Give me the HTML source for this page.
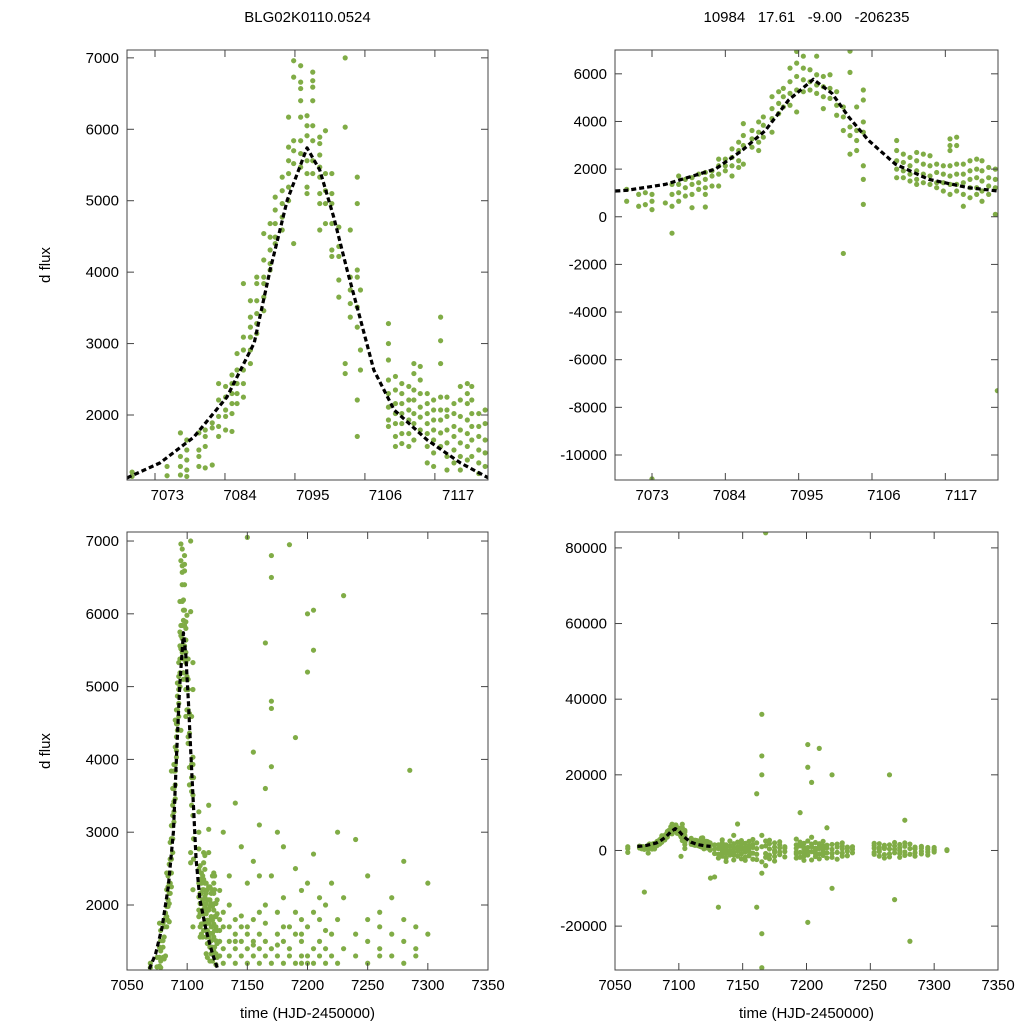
<!DOCTYPE html>
<html><head><meta charset="utf-8"><style>
body{margin:0;background:#fff}
svg{display:block;font-family:"Liberation Sans",sans-serif}
</style></head><body>
<svg id="c" width="1024" height="1024" viewBox="0 0 1024 1024"></svg>
<script>
// ---- data ----
const seriesA = [[7069.4,[1140,1200]],[7074.9,[1280,1150]],[7077.0,[1750,1420,1280,1160]],[7078.0,[1650,1510,1370,1230,1140]],[7079.9,[1750,1510,1420,1280]],[7080.9,[1790,1700,1560,1260]],[7082.0,[1890,1820,1300]],[7083.0,[2440,2210,1980,1840,1700]],[7084.1,[2400,2250,2070,1980,1790]],[7085.1,[2560,2440,2300,2160,2020,1770]],[7085.9,[2860,2630,2440,2300,2160]],[7086.9,[3840,3090,2910,2630,2440,2250]],[7088.0,[3600,3370,3230,3090,2910,2720]],[7089.0,[3930,3840,3600,3420,3280,3140]],[7090.1,[4540,4170,3930,3840,3650,3460]],[7091.1,[4680,4490,4310,4120,4030]],[7091.9,[5050,4870,4680,4490,4400]],[7093.0,[5330,5140,4960,4770,4590]],[7094.0,[6170,5750,5560,5380,5190,5000]],[7094.8,[6960,6730,5840,5700,5520,4400]],[7095.9,[6890,6660,6570,6400,6170,5840,5660,5470]],[7096.9,[6190,6050,5910,5560,5380,5190,5100]],[7097.8,[6800,6680,6590,6400,6050,5840,5560,5380]],[7098.9,[5890,5800,5640,5470,5330,5100,4960,4590]],[7099.8,[5980,5380,5140,4960,4680]],[7100.8,[5380,5100,4960,4680,4310,4220]],[7101.9,[4630,4360,4220,3890,3650]],[7102.9,[7000,6030,2720,2580]],[7103.7,[4590,3930,3750,3560,3370]],[7104.8,[5330,4960,4030,3930,3510,3230,2210,1700]],[7105.3,[3750,2910,2630]],[7109.7,[3280,3000,2770,2490,2300,2110,1930,1840]],[7110.8,[2540,2350,2160,2020,1880,1700,1560]],[7111.8,[2440,2300,2160,2020,1880,1740,1600]],[7112.9,[2400,2210,2070,1930,1740,1560]],[7113.7,[2720,2580,2350,2210,2020,1880,1650]],[7114.7,[2680,2490,2300,2110,1970,1790]],[7115.8,[2300,2160,2020,1880,1740,1560,1330]],[7116.8,[2210,2070,1930,1790,1650,1470,1280]],[7117.9,[3370,3040,2720,2250,2070,1930,1750,1560]],[7118.9,[2250,2070,1980,1790,1610,1420,1230]],[7120.0,[2160,2020,1840,1700,1510,1330]],[7121.0,[2400,2210,1980,1790,1610,1420,1230]],[7122.1,[2440,2300,2160,1930,1740,1560,1370]],[7122.8,[2400,2210,2020,1840,1650,1420]],[7123.9,[2020,1840,1700,1510,1330,1180]],[7124.9,[2070,1880,1650,1470,1280]]];
const seriesAExtra = [[7127,[1800,1500,2200,1300,1650]],[7130,[1400,1700,3000,1200,1900]],[7135,[2400,1500,1300,2000,1700]],[7140,[1800,1400,1600,1200,3400,1500]],[7145,[1500,1300,1700,2800,1850]],[7150,[7050,1700,1400,1200,2300,1600]],[7155,[1500,1300,1800,2600,4100,1450]],[7160,[1900,1400,1600,2400,1200,3100]],[7165,[5600,1500,1300,2000,3600,1750]],[7170,[6800,6500,4800,4700,3900,1400,1200,2400]],[7175,[1600,1300,1900,3000,1450]],[7180,[1500,1200,2100,2800,1700]],[7185,[6950,1400,1300,1700]],[7190,[1600,1200,1900,2500,4300]],[7195,[1300,1200,1500,1800,2200,1600]],[7200,[6000,5200,1300,1700,2300,1200]],[7205,[6050,5500,1400,1900,2700,1200]],[7210,[1500,1300,1800,2100]],[7215,[1400,2000,1200,1650]],[7220,[1300,1600,2300]],[7225,[1200,1800,3000]],[7230,[6250,1400,2100]],[7240,[1300,1600,2900]],[7250,[1200,1500,2400,1800]],[7260,[1400,1300,1700,1900]],[7270,[1300,1600,2100]],[7280,[1500,1200,1800,2600]],[7285,[3850]],[7290,[1400,1700,1300]],[7300,[2300,1600]]];
const seriesB = [[7069.2,[1150,650]],[7071,[940,440]],[7072,[1010,510]],[7073,[940,650,300,-11000]],[7075,[580]],[7076,[1360,940,440,-690]],[7077,[1710,1360,1010,650]],[7078,[1570,1220,870]],[7079,[1640,1360,940,380]],[7080,[1790,1430,1150]],[7081,[1860,1570,1220,940,410]],[7082,[1930,1710,1290]],[7083,[2420,2140,1790,1290]],[7084,[2420,2140,1930]],[7085,[2850,2490,2140,1710]],[7086,[3130,2780,2350,2070]],[7086.7,[3910,3410,2990,2210]],[7088,[3620,3270,2920]],[7089,[3980,3550,3130,2780]],[7089.7,[4190,3840,3340]],[7091,[5040,4540,4120,3550]],[7092,[5250,4760,4330]],[7092.7,[5390,5040,4610]],[7093.7,[6240,5670,5180,4680]],[7094.7,[6940,6450,5890,5320,4400]],[7095.7,[6740,6240,5750,5250]],[7096.7,[6170,5670,5320]],[7097.7,[6740,5960,5530,5180]],[7098.7,[5890,5460,5040,4540]],[7099.7,[5960,5390,4970]],[7100.7,[5250,4680,4260]],[7101.7,[4610,4190,3620,-1540]],[7102.7,[6950,6060,3770,3410,2630]],[7103.7,[4610,3620,3200,2780]],[7104.7,[5320,4900,3980,3550,2140,1570,520]],[7109.7,[3200,2780,2350,2000,1640]],[7110.7,[2630,2280,1930,1640]],[7111.7,[2490,2140,1790,1500]],[7112.7,[2700,2350,1930,1570,1360]],[7113.7,[2630,2210,1790,1430]],[7114.7,[2560,2140,1710,1360]],[7115.7,[2210,1860,1430,1220]],[7116.7,[2140,1790,1430,1080]],[7117.7,[3270,2990,2780,2140,1710,1360,940]],[7118.7,[3340,2990,2210,1790,1360,1080]],[7119.7,[2210,1790,1430,940,440]],[7120.7,[2350,1930,1570,1220,800]],[7121.7,[2420,2000,1640,1220,940]],[7122.5,[2350,1930,1500,1080,650]],[7123.5,[2070,1640,1290,940]],[7124.5,[2000,1570,1220,100]],[7124.8,[-7300]]];
const seriesBExtra = [[7060,[500,-500,1000]],[7128,[-7000,1500,-800,400]],[7131,[-15000,1500,-1000,500,-2000]],[7134,[1000,-500,2000,-1500,0,2800]],[7137,[800,-800,1500,-2000,300,-2900]],[7140,[-300,1200,-1200,2500,0]],[7143,[600,-600,1800,-2500,4000,-1200]],[7146,[-200,1000,-1500,2200,7000,400]],[7149,[900,-900,2600,-2200,300,1500]],[7152,[-400,700,-1800,1900,0,-2600]],[7155,[1200,-300,2400,-1400,500]],[7158,[-700,1600,-2300,800,2900]],[7161,[15000,-15000,500,-1000,2000,-2400]],[7165,[36000,25000,-22000,-31000,20000,1000,-3000,4000,-6000]],[7168,[84000,-800,2500,-4000,1200,-1800]],[7171,[400,-1200,1800,-2200,2700]],[7175,[-500,900,-1600,2000,0,-2800]],[7179,[700,-400,1500,-1100,2300]],[7183,[-300,1000,-1700,600]],[7192,[600,-900,1500,-2000,3000,-400]],[7195,[10000,-500,1200,-1800,2200]],[7198,[-700,800,-1500,1900,400,-2600]],[7201,[28000,22000,-19000,800,-1200,2500,-300]],[7204,[18000,-300,1000,-2500,1700,3500]],[7207,[-800,600,-1600,2100,0]],[7210,[27000,500,-900,1800,-2200,1100]],[7213,[-400,1200,-1300,2400,300]],[7216,[6000,-600,1400,-2000,700]],[7220,[20000,-10000,300,-800,1600,-1800]],[7224,[900,-500,1700,-2300]],[7228,[400,-700,1200,-1500,2000]],[7232,[-200,900,-1400,600]],[7236,[300,-600,1000]],[7253,[600,-500,1300,-1000,1900]],[7257,[-300,800,-1500,1800,200]],[7261,[500,-1100,1400,-2000,900]],[7265,[20000,400,-900,1500,-1700]],[7269,[-13000,300,-600,1200,2100]],[7273,[-800,700,1600,-1800,0]],[7277,[8000,-400,1100,-1300,2000]],[7281,[-24000,500,-1000,1700]],[7285,[-600,900,-1500,400]],[7290,[-200,600,-900,1100]],[7295,[300,-400,800,-1200]],[7300,[300,-400,800,0]],[7310,[0,200]]];
const modelA = [[7068.6,1120],[7073.8,1330],[7079.1,1690],[7084.3,2250],[7088.6,3010],[7091.1,4030],[7093.8,5010],[7096.9,5740],[7098.9,5430],[7101.1,4770],[7103.2,4030],[7105.2,3370],[7107.4,2630],[7110.6,2070],[7115.8,1650],[7121.0,1330],[7125.4,1120]];
const modelB = [[7067.5,1080],[7069.2,1110],[7075,1360],[7082.5,2000],[7086.5,2780],[7090,3620],[7093.5,4900],[7097.2,5770],[7100,5180],[7102.5,4190],[7105.5,3200],[7109.5,2210],[7114.5,1570],[7120.5,1220],[7124.9,1080]];
const ticksTopX = [7073,7084,7095,7106,7117];
const ticksWideX = [7050,7100,7150,7200,7250,7300,7350];
const ticksA = [2000,3000,4000,5000,6000,7000];
const ticksB = [-10000,-8000,-6000,-4000,-2000,0,2000,4000,6000];
const ticksD = [-20000,0,20000,40000,60000,80000];

const svg=document.getElementById('c');const NS='http://www.w3.org/2000/svg';
function mk(t,a,p){const e=document.createElementNS(NS,t);for(const k in a)e.setAttribute(k,a[k]);(p||svg).appendChild(e);return e;}
// lab = [label origin value, px per unit] for label placement (gnuplot label offsets)
function panel(name,L,R,T,B,x0,x1,y0,y1,xt,yt,pts,model,xtitle,ytitle,title,lab){
  const g=mk('g',{});
  
  
  const sx=v=>L+(v-x0)/(x1-x0)*(R-L), sy=v=>B-(v-y0)/(y1-y0)*(B-T);
  const lx=lab?(v=>L+(v-lab[0])*lab[1]):sx;
  const cp='cp'+name;const c=mk('clipPath',{id:cp},g);mk('rect',{x:L,y:T,width:R-L,height:B-T},c);
  const pg=mk('g',{'clip-path':'url(#'+cp+')'},g);
  pts.forEach(([t,fs])=>fs.forEach(f=>{const d=mk('circle',{cx:sx(t),cy:sy(f),r:2.6,fill:'#80ac46'},pg);
    
    }));
  if(model){const p=mk('polyline',{points:model.map(([t,f])=>sx(t)+','+sy(f)).join(' '),fill:'none',stroke:'#000','stroke-width':3.2,'stroke-dasharray':'5,3','stroke-linejoin':'round'},pg);
    
    }
  mk('rect',{x:L,y:T,width:R-L,height:B-T,fill:'none',stroke:'#444','stroke-width':1},g);
  xt.forEach(v=>{const x=sx(v);mk('line',{x1:x,x2:x,y1:B,y2:B-7,stroke:'#444'},g);mk('line',{x1:x,x2:x,y1:T,y2:T+7,stroke:'#444'},g);
    const tx=mk('text',{x:lx(v),y:B+20,'text-anchor':'middle','font-size':15},g);tx.textContent=v;
    
    });
  yt.forEach(v=>{const y=sy(v);mk('line',{x1:L,x2:L+7,y1:y,y2:y,stroke:'#444'},g);mk('line',{x1:R,x2:R-7,y1:y,y2:y,stroke:'#444'},g);
    const tx=mk('text',{x:L-8,y:y+5,'text-anchor':'end','font-size':15},g);tx.textContent=v;
    
    });
  if(xtitle){const t=mk('text',{x:(L+R)/2,y:1018,'text-anchor':'middle','font-size':15},g);t.textContent=xtitle;
    
    }
  if(ytitle){const t=mk('text',{x:50,y:(T+B)/2,'text-anchor':'middle','font-size':15,transform:'rotate(-90 50 '+(T+B)/2+')'},g);t.textContent=ytitle;
    
    }
  if(title){const t=mk('text',{x:(L+R)/2,y:22,'text-anchor':'middle','font-size':15,style:'white-space:pre'},g);t.textContent=title;
    
    }
}
panel('panel-top-left',127,488,50,480,7068.6,7125.35,1090,7110,ticksTopX,ticksA,seriesA,modelA,null,'d flux','BLG02K0110.0524',[7066.9,6.61]);
panel('panel-top-right',615,998,50,480,7067.45,7124.9,-11050,7000,ticksTopX,ticksB,seriesB,modelB,null,null,'10984   17.61   -9.00   -206235',[7067.7,7.02]);
panel('panel-bottom-left',127,488,532,970,7050,7350,1107,7124,ticksWideX,ticksA,seriesA.concat(seriesAExtra),modelA,'time (HJD-2450000)','d flux',null,null);
panel('panel-bottom-right',615,998,532,970,7050,7350,-31600,84200,ticksWideX,ticksD,seriesB.concat(seriesBExtra),modelB,'time (HJD-2450000)',null,null,null);
</script>
</body></html>
